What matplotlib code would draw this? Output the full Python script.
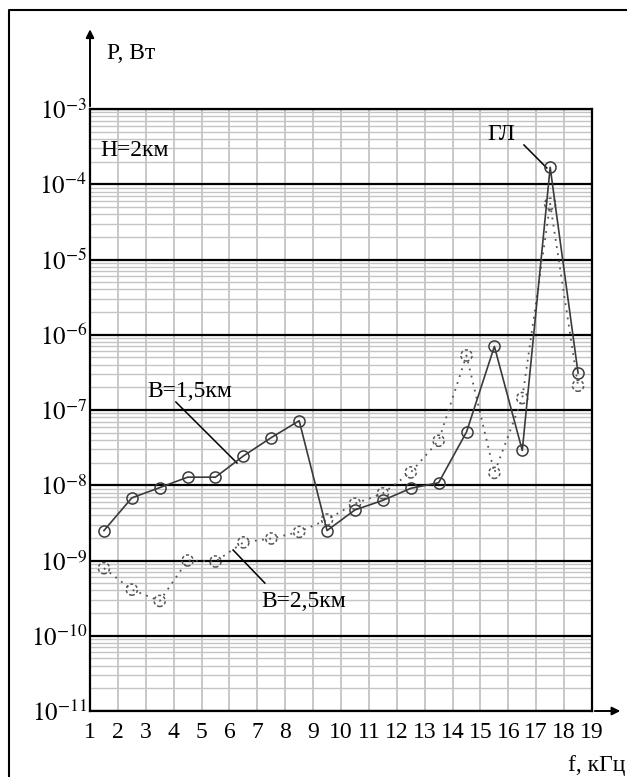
import matplotlib
matplotlib.use("Agg")
import matplotlib.pyplot as plt
from matplotlib.ticker import LogLocator, FixedLocator, NullFormatter
from matplotlib.lines import Line2D

plt.rcParams["font.family"] = ["Liberation Serif", "DejaVu Serif"]
plt.rcParams["mathtext.fontset"] = "stix"

# frequencies, kHz
freq = [1.5, 2.5, 3.5, 4.5, 5.5, 6.5, 7.5, 8.5, 9.5,
        10.5, 11.5, 12.5, 13.5, 14.5, 15.5, 16.5, 17.5, 18.5]

# power, W  (B = 1.5 km, solid)
p_b15 = [2.5e-9, 6.8e-9, 9.3e-9, 1.28e-8, 1.28e-8, 2.45e-8, 4.3e-8, 7.2e-8, 2.5e-9,
         4.7e-9, 6.3e-9, 9.1e-9, 1.08e-8, 5.1e-8, 7.0e-7, 2.9e-8, 1.68e-4, 3.1e-7]

# power, W  (B = 2.5 km, dotted)
p_b25 = [7.9e-10, 4.1e-10, 2.9e-10, 1.0e-9, 9.7e-10, 1.74e-9, 1.96e-9, 2.4e-9, 3.5e-9,
         5.7e-9, 7.8e-9, 1.48e-8, 3.9e-8, 5.3e-7, 1.46e-8, 1.44e-7, 5.5e-5, 2.1e-7]

x_ticks = list(range(1, 20))
y_decades = [-11, -10, -9, -8, -7, -6, -5, -4, -3]

col = "#3a3a3a"
grid_col = "#c4c4c4"

fig = plt.figure(figsize=(6.27, 7.77), dpi=100)
ax = fig.add_axes([90 / 627, 1 - 711 / 777, 502 / 627, 602 / 777])

ax.set_yscale("log")
ax.set_xlim(1, 19)
ax.set_ylim(1e-11, 1e-3)

# grid
ax.xaxis.set_major_locator(FixedLocator(x_ticks))
ax.yaxis.set_major_locator(FixedLocator([10.0 ** d for d in y_decades]))
ax.yaxis.set_minor_locator(LogLocator(base=10, subs=range(2, 10), numticks=20))
ax.yaxis.set_minor_formatter(NullFormatter())
ax.set_yticklabels([r"$10^{%d}$" % d for d in y_decades])
ax.grid(True, which="major", axis="x", color=grid_col, lw=1.3)
ax.grid(True, which="minor", axis="y", color=grid_col, lw=1.0)
ax.grid(True, which="major", axis="y", color="black", lw=1.6)
ax.set_axisbelow(True)
ax.tick_params(which="both", length=0)
ax.tick_params(axis="x", labelsize=17, pad=8)
ax.tick_params(axis="y", labelsize=18, pad=2)
for s in ax.spines.values():
    s.set_color("black")
    s.set_linewidth(1.6)

# B = 1.5 km
ax.plot(freq, p_b15, color=col, lw=1.2, marker="o", ms=8, mfc="none",
        mec=col, mew=1.1, zorder=4)

# B = 2.5 km
ax.plot(freq, p_b25, color="#555555", lw=1.3, ls=(0, (1, 3)), zorder=3)
ax.scatter(freq, p_b25, s=64, facecolors="none", edgecolors="#555555",
           linewidths=1.1, linestyles=(0, (2, 1.5)), zorder=3)

# labels
ax.text(1.36, 10 ** -3.545, "Н=2км", fontsize=17, va="center", ha="left")
ax.text(15.73, 10 ** -3.345, "ГЛ", fontsize=17, va="center", ha="center")
ax.plot([16.56, 17.38], [10 ** -3.478, 10 ** -3.784], color="black", lw=1.1)
ax.text(3.04, 10 ** -6.76, "В=1,5км", fontsize=17, va="center", ha="left")
ax.plot([4.08, 6.27], [10 ** -6.894, 10 ** -7.704], color="black", lw=1.1)
ax.text(7.16, 10 ** -9.55, "В=2,5км", fontsize=17, va="center", ha="left")
ax.plot([6.13, 7.27], [10 ** -8.86, 10 ** -9.30], color="black", lw=1.1)

# axis arrows
ax.annotate("", xy=(0, 1.137), xytext=(0, 1.0), xycoords="axes fraction",
            arrowprops=dict(arrowstyle="-|>", color="black", lw=1.4,
                            mutation_scale=12), annotation_clip=False)
ax.annotate("", xy=(1.062, 0), xytext=(1.0, 0), xycoords="axes fraction",
            arrowprops=dict(arrowstyle="-|>", color="black", lw=1.4,
                            mutation_scale=12), annotation_clip=False)
ax.text(0.034, 1.093, "P, Вт", transform=ax.transAxes, fontsize=17,
        va="center", ha="left")
fig.text(0.997, 1 - 765 / 777, "f, кГц", fontsize=17, va="center", ha="right")

# outer frame (left and top)
fx, fy = 9 / 627, 1 - 10 / 777
fig.add_artist(Line2D([fx, fx, 1.0], [0.0, fy, fy], color="black", lw=1.5,
                      transform=fig.transFigure))

fig.savefig("out.png", dpi=100)
